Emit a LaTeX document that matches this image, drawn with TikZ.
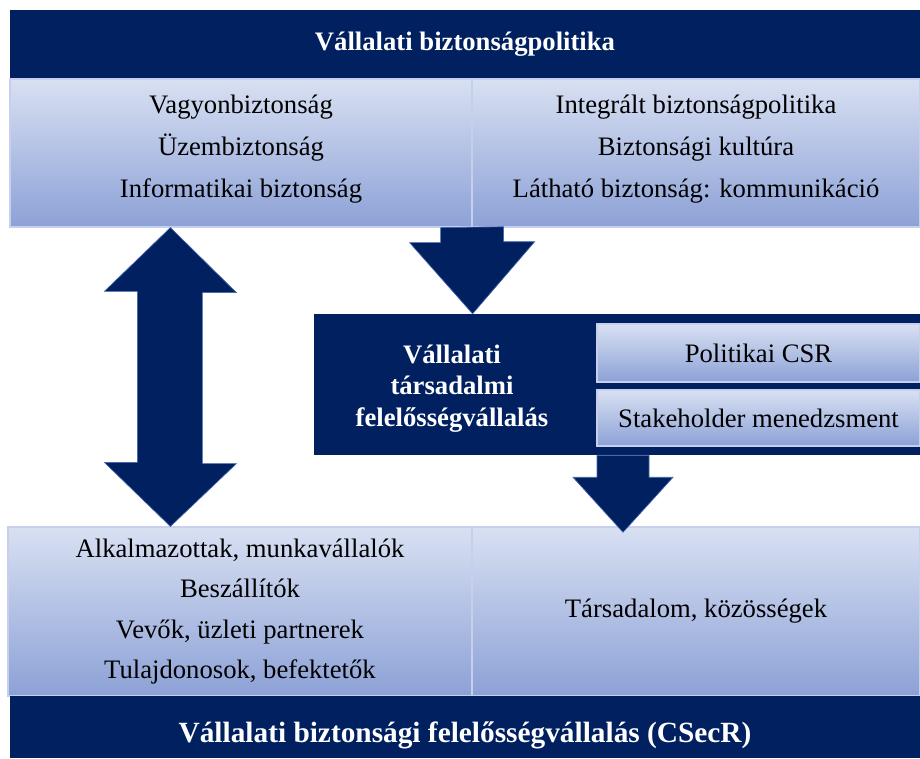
\documentclass[tikz,border=0pt]{standalone}
\usepackage{fontspec}
\setmainfont{Liberation Serif}
\usepackage{xcolor}
\usetikzlibrary{calc}
\definecolor{navy}{RGB}{0,32,96}
\definecolor{gradtop}{RGB}{216,224,242}
\definecolor{gradbot}{RGB}{140,161,214}
\definecolor{gradedge}{RGB}{198,208,236}
\definecolor{arredge}{RGB}{70,100,175}
\tikzset{
  navybar/.style={rectangle, fill=navy, text=white, inner sep=0pt, align=center, font=\fontsize{20}{24}\selectfont\bfseries},
  gradbox/.style={rectangle, top color=gradtop, bottom color=gradbot, draw=gradedge, line width=0.9pt, inner sep=0pt, align=center, font=\fontsize{20}{31.5}\selectfont},
  subbox/.style={gradbox, font=\fontsize{20}{24}\selectfont},
  wh/.style 2 args={minimum width=#1*0.75pt, minimum height=#2*0.75pt},
  blockarr/.style={fill=navy, draw=arredge, line width=0.5pt, line join=miter},
}
\begin{document}
\begin{tikzpicture}[x=0.75pt, y=-0.75pt]
  \useasboundingbox (0,0) rectangle (920,758);

  % Top: policy
  \node[navybar, wh={910}{69}] (polbar) at (465,44.5) {Vállalati biztonságpolitika};
  \node[gradbox, wh={462}{148}] (vagyon) at (241,153) {\raisebox{2.8pt}[\height][\depth]{\parbox{300pt}{\centering Vagyonbiztonság\\Üzembiztonság\\Informatikai biztonság}}};
  \node[gradbox, wh={448}{148}] (integ) at (696,153) {\raisebox{2.8pt}[\height][\depth]{\parbox{320pt}{\centering Integrált biztonságpolitika\\Biztonsági kultúra\\Látható biztonság: kommunikáció}}};

  % CSR block
  \node[navybar, wh={606}{141}] (csr) at (617,384.5) {};
  \node[navybar, font=\fontsize{20}{23.6}\selectfont\bfseries] (csrtxt) at (452,388.5) {Vállalati\\társadalmi\\felelősségvállalás};
  \node[subbox, wh={323}{58}] (polcsr) at (758.5,353) {Politikai CSR};
  \node[subbox, wh={323}{56}] (stake) at (758.5,418) {Stakeholder menedzsment};

  % Stakeholders
  \node[gradbox, wh={464}{169}, font=\fontsize{20}{30.4}\selectfont] (erint) at (240,611.5) {Alkalmazottak, munkavállalók\\Beszállítók\\Vevők, üzleti partnerek\\Tulajdonosok, befektetők};
  \node[gradbox, wh={448}{169}] (tarsad) at (696,611.5) {Társadalom, közösségek};

  % Bottom: CSecR
  \node[navybar, wh={910}{62}, font=\fontsize{22}{26}\selectfont\bfseries] (csecr) at (465,727) {\raisebox{-11.5pt}[0pt][0pt]{Vállalati biztonsági felelősségvállalás (CSecR)}};

  % Block arrows
  \coordinate (t1) at (vagyon.south east |- csr.north);
  \filldraw[blockarr] (vagyon.south east) ++(-32,0) -- ++(0,15) -- ++(-31,0) -- (t1) -- ++(62,-72) -- ++(-31,0) -- ++(0,-15) -- cycle;

  \coordinate (t2) at ($(csr.south)+(6,77)$);
  \filldraw[blockarr] (t2) -- ++(-50,-55) -- ++(24,0) -- ++(0,-22) -- ++(52,0) -- ++(0,22) -- ++(24,0) -- cycle;

  \coordinate (d1) at ($(vagyon.south west)+(161,0)$);
  \coordinate (d2) at ($(erint.north west)+(163,0)$);
  \filldraw[blockarr] (d1) -- ++(66,65) -- ++(-34,0) -- ++(0,171) -- ++(34,0) -- (d2) -- ++(-66,-64) -- ++(33,0) -- ++(0,-171) -- ++(-33,0) -- cycle;
\end{tikzpicture}
\end{document}
